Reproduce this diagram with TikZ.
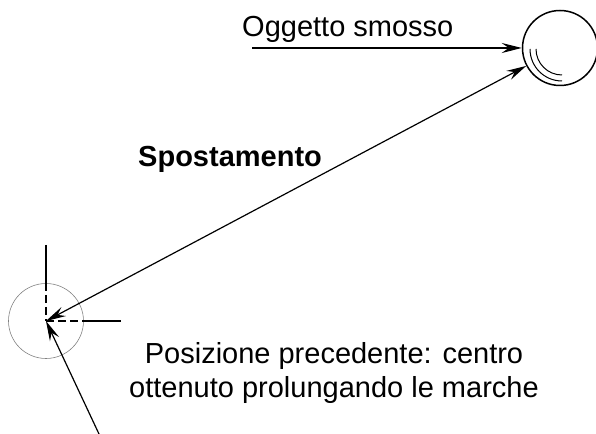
\documentclass[tikz,border=0pt]{standalone}
\usepackage{fontspec}
\setmainfont{Liberation Sans}
\usetikzlibrary{arrows.meta}
\begin{document}
\begin{tikzpicture}[x=1pt,y=1pt,
  >={Stealth[length=20pt,width=10pt,inset=7pt]},
  conn/.style={line width=1.2pt},
  lbl/.style={inner sep=0pt,font=\fontsize{29}{34}\selectfont},
  marksolid/.style={line width=1.2pt},
  markdash/.style={line width=1.2pt,dash pattern=on 8pt off 4pt}]
\useasboundingbox (0,0) rectangle (596,433);
% moved object
\node[draw,circle,line width=1.5pt,minimum size=75pt,inner sep=0pt] (obj) at (560,385) {};
\draw[line width=1pt] ([shift={(562,384)}]180:32) arc[start angle=180,end angle=270,radius=32];
\draw[line width=1pt] ([shift={(562,384)}]180:26) arc[start angle=180,end angle=270,radius=26];
% previous position
\node[draw=gray,circle,line width=0.6pt,minimum size=75pt,inner sep=0pt] (prev) at (46,112) {};
\coordinate (c) at (46,112);
\draw[marksolid] (46,188) -- (46,150);
\draw[markdash] (46,150) -- (c);
\draw[markdash] (c) -- (83,112);
\draw[marksolid] (83,112) -- (121,112);
% labels
\node[lbl,anchor=base west] (ogg) at (242,396) {Oggetto smosso};
\node[lbl,anchor=base west,font=\fontsize{29}{34}\selectfont\bfseries] (spo) at (138,266) {Spostamento};
\node[lbl,anchor=base] (pos1) at (334,69) {Posizione precedente: centro};
\node[lbl,anchor=base] (pos2) at (334,35) {ottenuto prolungando le marche};
% connectors
\coordinate (os) at (252,385);
\coordinate (pb) at (99,-1);
\draw[conn,->] (os) -- (obj.west);
\draw[conn,<->] (c) -- (obj);
\draw[conn,->] (pb) -- (c);
\end{tikzpicture}
\end{document}
